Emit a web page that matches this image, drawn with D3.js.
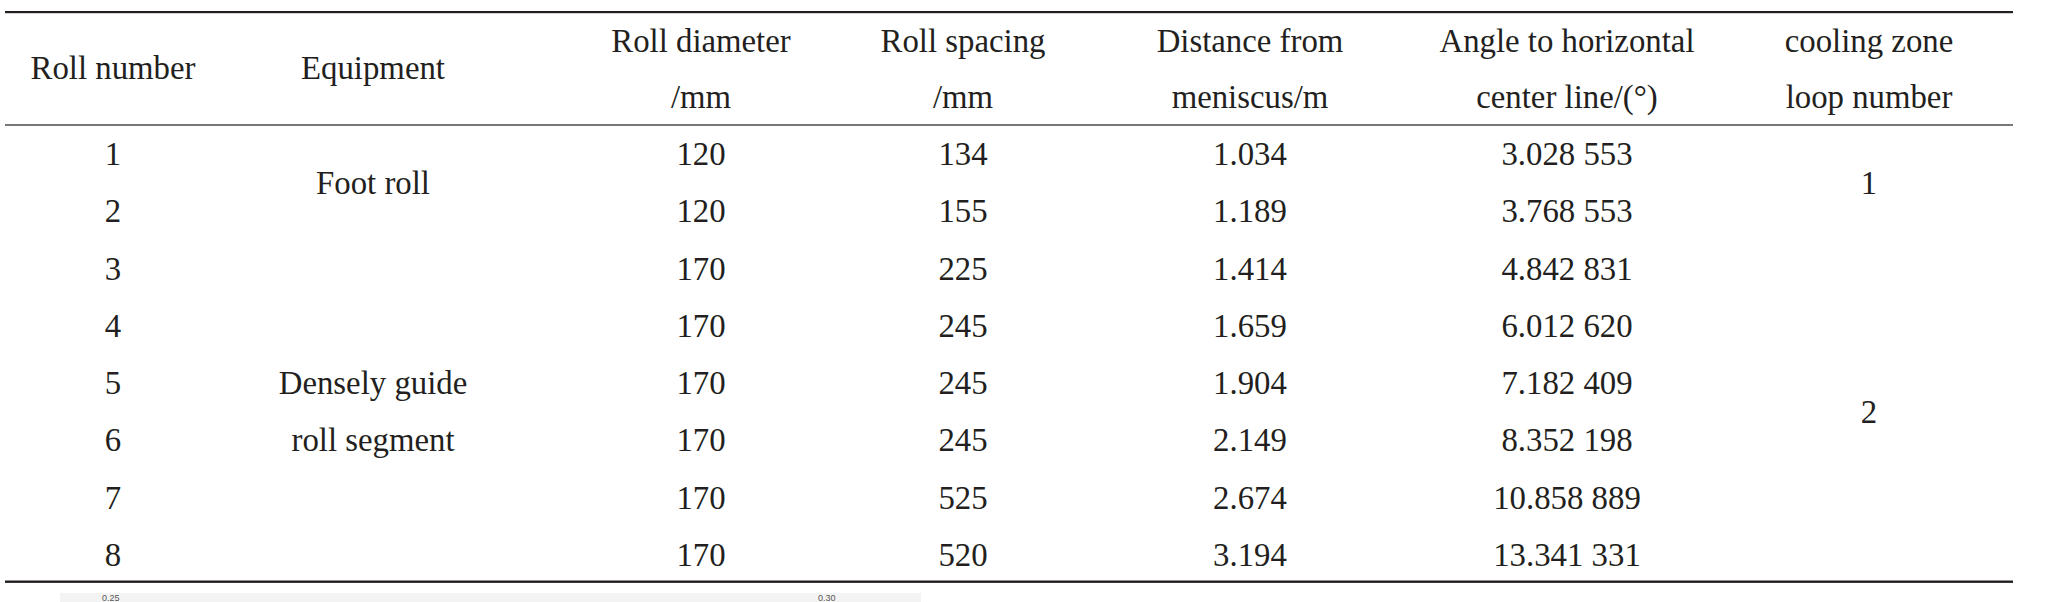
<!DOCTYPE html>
<html>
<head>
<meta charset="utf-8">
<script src="https://cdn.jsdelivr.net/npm/d3@7"></script>
<style>
  html, body { margin: 0; padding: 0; background: #fff; overflow: hidden; }
  svg { display: block; }
</style>
</head>
<body>
<div id="table"></div>
<script>
// table contents
var columns = ["roll", "equip", "diameter", "spacing", "distance", "angle", "cooling"];
var headerLines = [
  ["Roll number"],
  ["Equipment"],
  ["Roll diameter", "/mm"],
  ["Roll spacing", "/mm"],
  ["Distance from", "meniscus/m"],
  ["Angle to horizontal", "center line/(°)"],
  ["cooling zone", "loop number"]
];
var rollNumbers = [1, 2, 3, 4, 5, 6, 7, 8];
var rollDiameter = [120, 120, 170, 170, 170, 170, 170, 170];
var rollSpacing = [134, 155, 225, 245, 245, 245, 525, 520];
var distance = ["1.034", "1.189", "1.414", "1.659", "1.904", "2.149", "2.674", "3.194"];
var angle = ["3.028 553", "3.768 553", "4.842 831", "6.012 620", "7.182 409",
             "8.352 198", "10.858 889", "13.341 331"];
// merged cells: label lines and the rows they span
var equipment = [
  { lines: ["Foot roll"], first: 1, last: 2 },
  { lines: ["Densely guide", "roll segment"], first: 3, last: 8 }
];
var coolingLoop = [
  { lines: ["1"], first: 1, last: 2 },
  { lines: ["2"], first: 3, last: 8 }
];
// tick labels of the next figure, showing at the bottom edge
var nextFigTicks = ["0.25", "0.30"];

// layout
var W = 2045, H = 602;
var colCenters = [113, 373, 701, 963, 1250, 1567, 1869];
var lineColor = "#231f20";
var textColor = "#231f20";
var font = "'Liberation Serif', 'Times New Roman', serif";
var fontSize = 32.8;

var svg = d3.select("#table").append("svg")
    .attr("width", W)
    .attr("height", H);

var x = d3.scaleOrdinal().domain(columns).range(colCenters);
// baseline of each body row
var y = d3.scaleLinear().domain([1, 8]).range([165, 566]);

// rules
svg.append("rect").attr("x", 5).attr("y", 11).attr("width", 2008).attr("height", 2.2)
    .attr("fill", lineColor);
svg.append("rect").attr("x", 5).attr("y", 124).attr("width", 2008).attr("height", 2)
    .attr("fill", "#777");
svg.append("rect").attr("x", 5).attr("y", 580.5).attr("width", 2008).attr("height", 2.4)
    .attr("fill", lineColor);

// header
var headG = svg.append("g")
    .attr("font-family", font)
    .attr("font-size", fontSize)
    .attr("fill", textColor)
    .attr("text-anchor", "middle");

headG.selectAll("text")
    .data(d3.merge(headerLines.map(function(lines, ci) {
        return lines.map(function(t, li) {
            return { col: columns[ci], text: t, li: li, n: lines.length };
        });
    })))
    .enter().append("text")
    .attr("x", function(d) { return x(d.col); })
    .attr("y", function(d) {
        // two line headers at 52 / 108, single line in the middle
        return d.n == 1 ? 79 : 52 + d.li * 56;
    })
    .text(function(d) { return d.text; });

// body cells
var bodyCols = [
  { col: "roll", vals: rollNumbers },
  { col: "diameter", vals: rollDiameter },
  { col: "spacing", vals: rollSpacing },
  { col: "distance", vals: distance },
  { col: "angle", vals: angle }
];

var bodyG = svg.append("g")
    .attr("font-family", font)
    .attr("font-size", fontSize)
    .attr("fill", textColor)
    .attr("text-anchor", "middle");

bodyCols.forEach(function(c) {
    bodyG.selectAll("text.c-" + c.col)
        .data(c.vals)
        .enter().append("text")
        .attr("class", "c-" + c.col)
        .attr("x", x(c.col))
        .attr("y", function(d, i) { return y(rollNumbers[i]); })
        .text(function(d) { return d; });
});

// merged cells, lines centred on the span
function mergedCells(col, groups) {
    var items = [];
    groups.forEach(function(g) {
        var mid = (g.first + g.last) / 2;
        g.lines.forEach(function(t, li) {
            items.push({ text: t, row: mid + (li - (g.lines.length - 1) / 2) });
        });
    });
    bodyG.selectAll("text.m-" + col)
        .data(items)
        .enter().append("text")
        .attr("class", "m-" + col)
        .attr("x", x(col))
        .attr("y", function(d) { return y(d.row); })
        .text(function(d) { return d.text; });
}
mergedCells("equip", equipment);
mergedCells("cooling", coolingLoop);

// strip of the next figure at the bottom edge
svg.append("rect").attr("x", 60).attr("y", 593).attr("width", 861).attr("height", 10)
    .attr("fill", "#f3f3f3");
svg.selectAll("text.next")
    .data(nextFigTicks)
    .enter().append("text")
    .attr("class", "next")
    .attr("x", function(d, i) { return i == 0 ? 102 : 818; })
    .attr("y", 600.5)
    .attr("font-family", "'Liberation Sans', Arial, sans-serif")
    .attr("font-size", 9)
    .attr("fill", "#555")
    .text(function(d) { return d; });
</script>
</body>
</html>
